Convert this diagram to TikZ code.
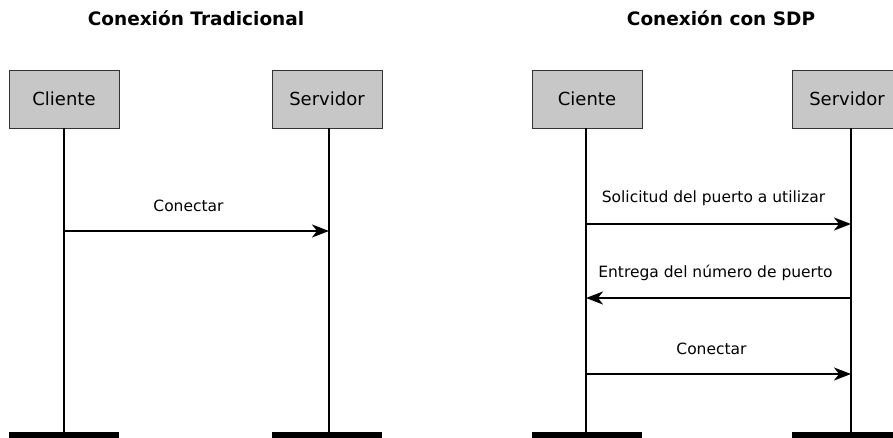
\documentclass[tikz,border=0pt]{standalone}
\usepackage{fontspec}
\setmainfont{DejaVu Sans}
\usetikzlibrary{arrows.meta}
\begin{document}
\begin{tikzpicture}[x=1pt,y=-1pt,
  actor/.style={draw=black!80,line width=0.8pt,fill=black!22,minimum width=110pt,minimum height=58pt,inner sep=0pt,font=\fontsize{18}{20}\selectfont},
  life/.style={line width=2pt},
  bar/.style={line width=6pt},
  msg/.style={line width=2pt,-{Stealth[length=17pt,width=13pt,inset=5pt]}},
  lbl/.style={font=\fontsize{15.5}{17}\selectfont,anchor=center,yshift=25.5pt},
  ttl/.style={font=\bfseries\fontsize{18.5}{20}\selectfont}]
\useasboundingbox (0,0) rectangle (893,438);
\clip (0,0) rectangle (893,438);
\node[ttl] (t1) at (196,18) {Conexión Tradicional};
\node[ttl] (t2) at (721,18) {Conexión con SDP};
% left diagram
\node[actor] (c1) at (64,99) {Cliente};
\node[actor] (s1) at (327,99) {Servidor};
\coordinate (c1b) at (64,435);
\coordinate (s1b) at (329,435);
\draw[life] (c1.south) -- (c1b);
\draw[life] ([xshift=2pt]s1.south) -- (s1b);
\draw[bar] (9,435) -- (119,435);
\draw[bar] (272,435) -- (382,435);
\coordinate (a1s) at (64,231);
\coordinate (a1e) at (329,231);
\draw[msg] (a1s) -- (a1e) node[lbl,midway,xshift=-8pt] (l1) {Conectar};
% right diagram
\node[actor] (c2) at (587,99) {Ciente};
\node[actor] (s2) at (847,99) {Servidor};
\coordinate (c2b) at (586,435);
\coordinate (s2b) at (851,435);
\draw[life] ([xshift=-1pt]c2.south) -- (c2b);
\draw[life] ([xshift=4pt]s2.south) -- (s2b);
\draw[bar] (532,435) -- (642,435);
\draw[bar] (792,435) -- (902,435);
\coordinate (b1s) at (586,224);
\coordinate (b1e) at (851,224);
\coordinate (b2s) at (851,298);
\coordinate (b2e) at (586,298);
\coordinate (b3s) at (586,374);
\coordinate (b3e) at (851,374);
\draw[msg] (b1s) -- (b1e) node[lbl,midway,xshift=-5pt] (l2) {Solicitud del puerto a utilizar};
\draw[msg] (b2s) -- (b2e) node[lbl,midway,xshift=-3pt] (l3) {Entrega del número de puerto};
\draw[msg] (b3s) -- (b3e) node[lbl,midway,xshift=-7pt] (l4) {Conectar};
\end{tikzpicture}
\end{document}
